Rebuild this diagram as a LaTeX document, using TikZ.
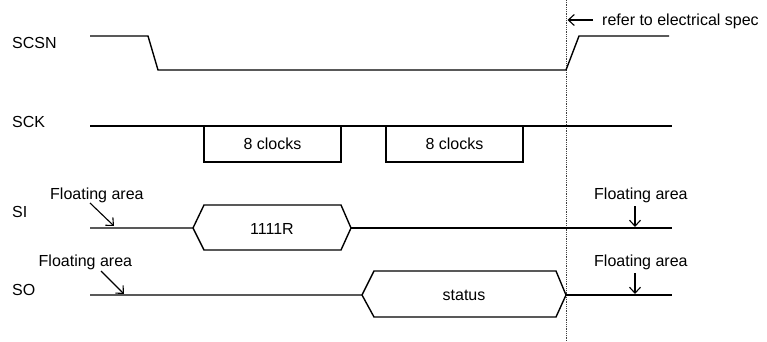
\documentclass[tikz,border=0pt]{standalone}
\usepackage{fontspec}
\setmainfont{Liberation Sans}
\usetikzlibrary{arrows.meta}
\begin{document}
\begin{tikzpicture}[x=1pt,y=-1pt,
  sig/.style={line width=1.4pt, line join=miter},
  lbl/.style={inner sep=0pt, font=\fontsize{16}{19}\selectfont},
  barb/.style={line width=1.1pt, -{Straight Barb[length=6pt,width=11pt]}},
  guide/.style={densely dotted, line width=0.8pt, black!75}]
\useasboundingbox (0,0) rectangle (767,342);
% labels
\node[lbl, anchor=base west] (lscsn) at (12,48.5) {SCSN};
\node[lbl, anchor=base west] (lsck) at (12,127) {SCK};
\node[lbl, anchor=base west] (lsi) at (12,217) {SI};
\node[lbl, anchor=base west] (lso) at (12,295) {SO};
% dotted reference line
\coordinate (dtop) at (566.5,0);
\coordinate (dbot) at (566.5,342);
\draw[guide] (dtop) -- (dbot);
% SCSN
\draw[sig] (90,36) -- (148,36) -- (158,70) -- (566,70) -- (579,36) -- (669,36);
% SCK
\draw[sig] (90,126) -- (672,126);
\draw[sig] (204,126) rectangle (341,162);
\draw[sig] (386,126) rectangle (523,162);
\node[lbl] (clk1) at (272.5,144) {8 clocks};
\node[lbl] (clk2) at (454.5,144) {8 clocks};
% SI
\draw[sig] (90,228) -- (193,228) -- (204,205) -- (341,205) -- (351,228) -- (341,250) -- (204,250) -- (193,228);
\draw[sig] (351,228) -- (672,228);
\node[lbl] (d1111) at (272,229) {1111R};
% SO
\draw[sig] (90,295) -- (362,295) -- (374,271) -- (556,271) -- (566,295) -- (556,317) -- (374,317) -- (362,295);
\draw[sig] (566,295) -- (672,295);
\node[lbl] (dstatus) at (464,295) {status};
% floating areas
\node[lbl, anchor=base west] (fsi) at (50,199.5) {Floating area};
\node[lbl, anchor=base west] (fso) at (38.5,266.5) {Floating area};
\node[lbl, anchor=base west] (fsir) at (594,199.5) {Floating area};
\node[lbl, anchor=base west] (fsor) at (594,266.5) {Floating area};
\coordinate (a1s) at (90,203); \coordinate (a1e) at (114,226);
\coordinate (a2s) at (101,271); \coordinate (a2e) at (124,294);
\coordinate (a3s) at (635,206); \coordinate (a3e) at (635,227);
\coordinate (a4s) at (635,273); \coordinate (a4e) at (635,294);
\draw[barb] (a1s) -- (a1e);
\draw[barb] (a2s) -- (a2e);
\draw[barb] (a3s) -- (a3e);
\draw[barb] (a4s) -- (a4e);
% refer note
\node[lbl, anchor=base west] (refer) at (602,26) {refer to electrical spec};
\coordinate (rs) at (593,20); \coordinate (re) at (567.5,20);
\draw[barb] (rs) -- (re);
\end{tikzpicture}
\end{document}
